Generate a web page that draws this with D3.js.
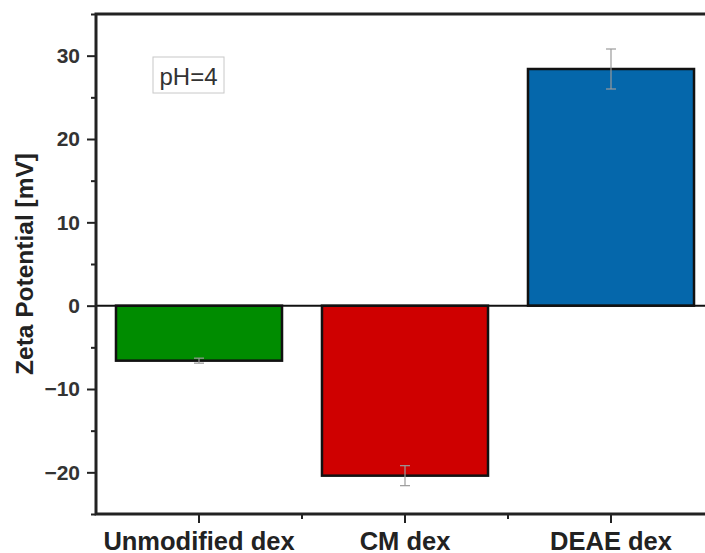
<!DOCTYPE html>
<html>
<head>
<meta charset="utf-8">
<script src="https://cdn.jsdelivr.net/npm/d3@7.9.0/dist/d3.min.js"></script>
<style>
  body { margin: 0; background: #fff; }
  svg { display: block; font-family: 'Liberation Sans', Arial, sans-serif; }
</style>
</head>
<body>
<script>
// ─── DATA ────────────────────────────────────────────────────────────────
const categories = ['Unmodified dex', 'CM dex', 'DEAE dex'];
const zeta       = [-6.6, -20.4, 28.4];
const zetaErr    = [0.3, 1.2, 2.4];
const barColors  = ['#008c00', '#cf0000', '#0567ab'];
const yTicks     = [-20, -10, 0, 10, 20, 30];
const yMinor     = [-25, -15, -5, 5, 15, 25, 35];
const note       = 'pH=4';
const yTitle     = 'Zeta Potential [mV]';

// ─── SVG ─────────────────────────────────────────────────────────────────
const W = 705, H = 553;
const plot = { left: 96, right: 714, top: 14, bottom: 514 };

const svg = d3.select('body').append('svg')
  .attr('width', W).attr('height', H);

const x = d3.scaleBand()
  .domain(categories)
  .range([plot.left, plot.right])
  .paddingInner(0.194)
  .paddingOuter(0.097);

const y = d3.scaleLinear()
  .domain([-25, 35])
  .range([plot.bottom, plot.top]);

// bars
const data = categories.map((c, i) => ({ cat: c, v: zeta[i], e: zetaErr[i], col: barColors[i] }));

svg.append('g').selectAll('rect')
  .data(data)
  .enter().append('rect')
    .attr('x', d => x(d.cat))
    .attr('width', x.bandwidth())
    .attr('y', d => y(Math.max(0, d.v)))
    .attr('height', d => Math.abs(y(d.v) - y(0)))
    .attr('fill', d => d.col)
    .attr('stroke', '#111')
    .attr('stroke-width', 2.5);

// error bars (light grey, thin)
const eb = svg.append('g')
  .attr('stroke', '#9a9a9a')
  .attr('stroke-width', 1.2)
  .attr('fill', 'none');
data.forEach(d => {
  const cx = x(d.cat) + x.bandwidth() / 2;
  eb.append('line')
    .attr('x1', cx).attr('x2', cx)
    .attr('y1', y(d.v - d.e)).attr('y2', y(d.v + d.e));
  [d.v - d.e, d.v + d.e].forEach(v => {
    eb.append('line')
      .attr('x1', cx - 5).attr('x2', cx + 5)
      .attr('y1', y(v)).attr('y2', y(v));
  });
});

// zero line
svg.append('line')
  .attr('x1', plot.left).attr('x2', plot.right)
  .attr('y1', y(0)).attr('y2', y(0))
  .attr('stroke', '#111').attr('stroke-width', 2);

// ─── AXES ────────────────────────────────────────────────────────────────
const axisCol = '#222';

// y axis
const yAxis = svg.append('g')
  .attr('transform', `translate(${plot.left},0)`)
  .call(d3.axisLeft(y).tickValues(yTicks).tickSize(9).tickPadding(7)
    .tickFormat(d => d < 0 ? '\u2212' + Math.abs(d) : d));
yAxis.select('.domain').remove();
yAxis.selectAll('.tick line').attr('stroke', axisCol).attr('stroke-width', 2);
yAxis.selectAll('.tick text')
  .attr('fill', '#333')
  .style('font-size', '21px')
  .style('font-weight', 'bold');

svg.append('g')
  .attr('transform', `translate(${plot.left},0)`)
  .call(d3.axisLeft(y).tickValues(yMinor).tickSize(5).tickFormat(''))
  .call(g => g.select('.domain').remove())
  .selectAll('.tick line').attr('stroke', axisCol).attr('stroke-width', 2);

// x axis
const xAxis = svg.append('g')
  .attr('transform', `translate(0,${plot.bottom})`)
  .call(d3.axisBottom(x).tickSize(9).tickPadding(0));
xAxis.select('.domain').remove();
xAxis.selectAll('.tick line').attr('stroke', axisCol).attr('stroke-width', 2);
xAxis.selectAll('.tick text')
  .attr('dy', null)
  .attr('y', 36)
  .attr('fill', '#222')
  .style('font-size', '25.5px')
  .style('font-weight', 'bold');

// minor x ticks between categories
const xMinor = categories.slice(1).map(c => x(c) - x.step() * x.paddingInner() / 2);
svg.append('g').selectAll('line')
  .data(xMinor)
  .enter().append('line')
    .attr('x1', d => d).attr('x2', d => d)
    .attr('y1', plot.bottom).attr('y2', plot.bottom + 5)
    .attr('stroke', axisCol).attr('stroke-width', 2);

// frame: left, bottom, top
svg.append('path')
  .attr('d', `M${plot.right},${plot.top}H${plot.left}V${plot.bottom}H${plot.right}`)
  .attr('fill', 'none')
  .attr('stroke', axisCol)
  .attr('stroke-width', 3);

// y title
svg.append('text')
  .attr('transform', `translate(33,${y(5)}) rotate(-90)`)
  .attr('text-anchor', 'middle')
  .attr('fill', '#222')
  .style('font-size', '24.5px')
  .style('font-weight', 'bold')
  .text(yTitle);

// pH annotation box
const noteG = svg.append('g').attr('transform', 'translate(153,57)');
noteG.append('rect')
  .attr('width', 71).attr('height', 36)
  .attr('fill', '#fff')
  .attr('stroke', '#c8c8c8')
  .attr('stroke-width', 1);
noteG.append('text')
  .attr('x', 35.5).attr('y', 28)
  .attr('text-anchor', 'middle')
  .attr('fill', '#333')
  .style('font-size', '24px')
  .text(note);
</script>
</body>
</html>
